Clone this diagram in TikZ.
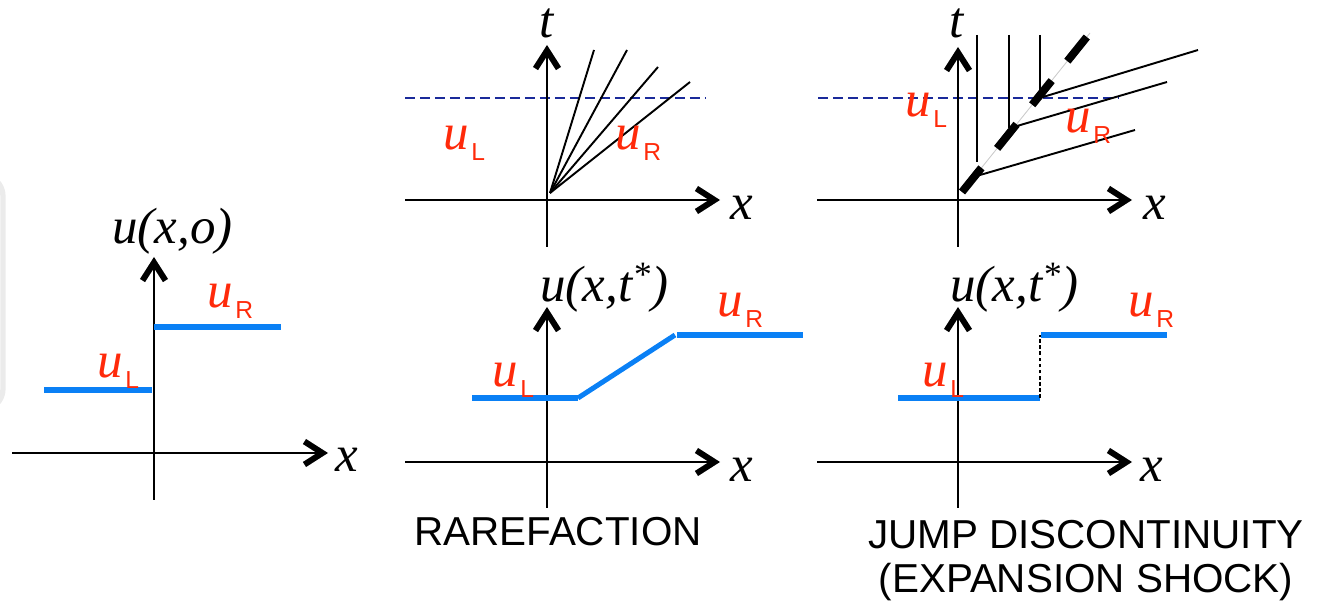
\documentclass[tikz,border=0pt]{standalone}
\usepackage{fontspec}
\setmainfont{Liberation Serif}
\setsansfont{Liberation Sans}
\usepackage{xcolor}
\definecolor{level}{HTML}{0A80F5}
\definecolor{state}{HTML}{FF2A0A}
\definecolor{tcut}{HTML}{1A2A9A}
\definecolor{edgegray}{HTML}{EBEBEB}
\usepackage{tikz}
\usetikzlibrary{arrows.meta, positioning, calc}
\newcommand{\ustate}[1]{\textit{u}\kern1.5pt\raisebox{-6pt}{\upshape\sffamily\fontsize{14}{14}\selectfont #1}}

\begin{document}
\begin{tikzpicture}[
  x=0.02cm, y=-0.02cm,
  font=\fontsize{29}{32}\selectfont\itshape,
  axis/.style={
    line width=1.1pt,
    -{Straight Barb[length=3.6mm, width=4.6mm, line width=3.4pt]}
  },
  profile/.style={level, line width=2.85pt},
  charline/.style={black, line width=1.1pt},
  tlevel/.style={tcut, line width=0.85pt, dash pattern=on 0.2cm off 0.1cm},
  lab/.style={anchor=base west, inner sep=0pt},
  slabel/.style={lab, state},
  caption/.style={
    anchor=base, inner sep=0pt, align=center, font=\sffamily\upshape\fontsize{23}{25}\selectfont
  }
]
  \useasboundingbox (0,0) rectangle (1325,607);
  \draw[edgegray, line width=3pt, rounded corners=12pt] (-40,175) rectangle (3,410);

  \draw[axis] (12,453) -- (328,453);
  \draw[axis] (154,500) -- (154,257);
  \node[lab] (x1) at (335,472) {x};
  \node[lab] (u1) at (112,244) {u(x,o)};
  \draw[profile] (44,390) -- (152,390);
  \draw[profile] (154,327) -- (281,327);
  \node[slabel] (uL1) at (97,378) {\ustate{L}};
  \node[slabel] (uR1) at (207,308) {\ustate{R}};

  \draw[tlevel] (405,98) -- (705,98);
  \foreach \ex/\ey in {594/50, 627/50, 658/67, 690/82}
    \draw[charline] (550,193) -- (\ex,\ey);
  \draw[axis] (405,200) -- (720,200);
  \draw[axis] (547,247) -- (547,45);
  \node[lab] (x2) at (730,220) {x};
  \node[anchor=base, inner sep=0pt] (t2) at (547,38) {t};
  \node[slabel] (uL2) at (443,150) {\ustate{L}};
  \node[slabel] (uR2) at (615,150) {\ustate{R}};

  \draw[tlevel] (818,98) -- (1118,98);
  \foreach \vx/\vy in {977/162, 1009/128, 1040/95}
    \draw[charline] (\vx,35) -- (\vx,\vy);
  \foreach \sx/\sy/\ex/\ey in {980/175/1135/130, 1017/126/1167/82, 1043/97/1198/50}
    \draw[charline] (\sx,\sy) -- (\ex,\ey);
  \draw[black!20, line width=0.5pt] (962,192) -- (1090,33);
  \draw[black, line width=4.5pt, dash pattern=on 0.62cm off 0.5cm] (962,192) -- (1090,33);
  \draw[axis] (817,200) -- (1132,200);
  \draw[axis] (958,247) -- (958,47);
  \node[lab] (x3) at (1143,220) {x};
  \node[anchor=base, inner sep=0pt] (t3) at (957,38) {t};
  \node[slabel] (uL3) at (905,117) {\ustate{L}};
  \node[slabel] (uR3) at (1065,133) {\ustate{R}};

  \draw[axis] (405,462) -- (720,462);
  \draw[axis] (547,508) -- (547,307);
  \node[lab] (x4) at (730,482) {x};
  \node[lab] (u4) at (540,302) {u(x,t\textsuperscript{*})};
  \draw[profile] (472,398) -- (578,398);
  \draw[profile] (578,398) -- (675,335);
  \draw[profile] (677,335) -- (803,335);
  \node[slabel] (uL4) at (492,387) {\ustate{L}};
  \node[slabel] (uR4) at (717,317) {\ustate{R}};
  \node[caption] (rare) at (558,545) {RAREFACTION};

  \draw[axis] (817,462) -- (1132,462);
  \draw[axis] (958,508) -- (958,307);
  \node[lab] (x5) at (1140,482) {x};
  \node[lab] (u5) at (950,302) {u(x,t\textsuperscript{*})};
  \draw[profile] (898,398) -- (1040,398);
  \draw[profile] (1041,335) -- (1167,335);
  \draw[black, line width=0.6pt, dash pattern=on 2pt off 1.5pt] (1040,398) -- (1040,335);
  \node[slabel] (uL5) at (922,387) {\ustate{L}};
  \node[slabel] (uR5) at (1128,317) {\ustate{R}};
  \node[caption] (jump) at (1086,592) {JUMP DISCONTINUITY\\(EXPANSION SHOCK)};
\end{tikzpicture}
\end{document}
